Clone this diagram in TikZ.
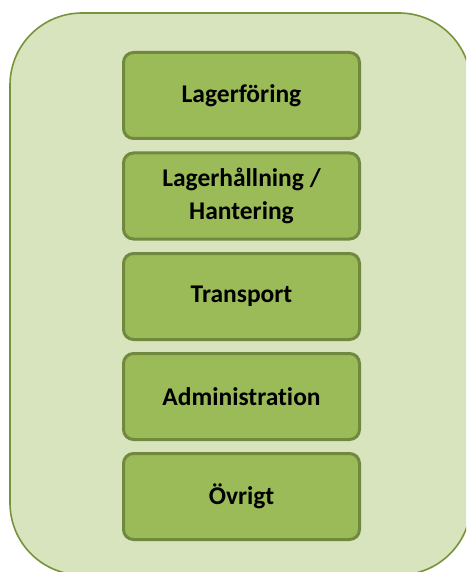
\documentclass[tikz,border=0pt]{standalone}
\usepackage{fontspec}
\setmainfont[Ligatures=NoCommon]{Carlito}
\definecolor{outerfill}{HTML}{D8E4BE}
\definecolor{outerline}{HTML}{77933C}
\definecolor{boxfill}{HTML}{9BBB59}
\definecolor{boxline}{HTML}{71893F}
\tikzset{
  catbox/.style={draw=boxline, line width=3pt, fill=boxfill, rounded corners=10pt,
    minimum width=236pt, minimum height=86pt, inner sep=0pt,
    align=center, font=\fontsize{25.5}{33}\selectfont\bfseries, text=black}
}
\begin{document}
\begin{tikzpicture}[x=1pt,y=-1pt]
\useasboundingbox (0,0) rectangle (466,572);
\begin{scope}
\clip (0,0) rectangle (466,572);
\draw[draw=outerline, line width=1.6pt, fill=outerfill, rounded corners=72pt] (10,13) rectangle (471,575);
\end{scope}
\node[catbox] (b1) at (241.5,95.5) {Lagerföring};
\node[catbox] (b2) at (241.5,196) {Lagerhållning /\\Hantering};
\node[catbox] (b3) at (241.5,296.5) {Transport};
\node[catbox] (b4) at (241.5,396.5) {Administration};
\node[catbox] (b5) at (241.5,496.5) {Övrigt};
\end{tikzpicture}
\end{document}
